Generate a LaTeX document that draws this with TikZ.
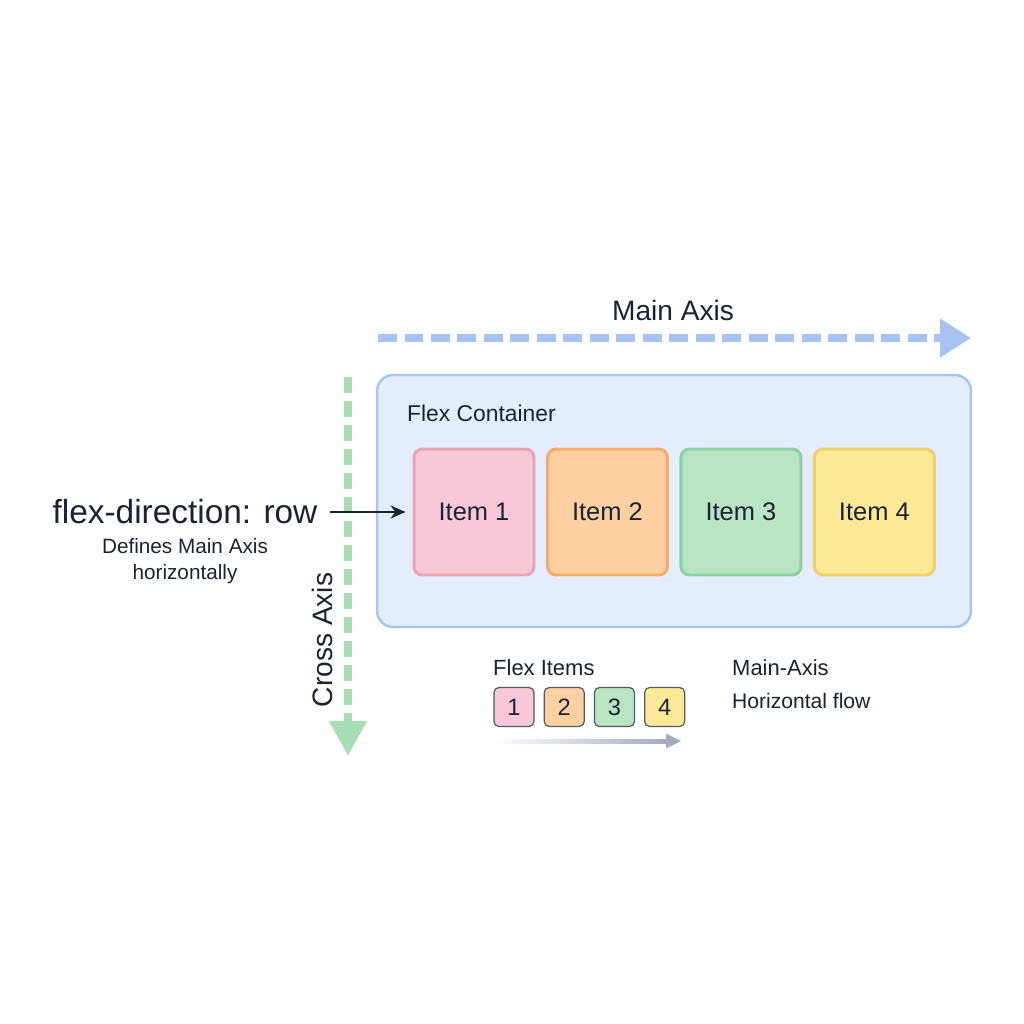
\documentclass[tikz,border=0pt]{standalone}
\usepackage{fontspec}
\setmainfont{Liberation Sans}
\usepackage{tikz}
\usetikzlibrary{arrows.meta, positioning, shapes, calc}

\definecolor{ink}{HTML}{1B2333}
\definecolor{mainblue}{HTML}{A6C3F3}
\definecolor{crossgreen}{HTML}{A9DDB6}
\definecolor{boxfill}{HTML}{E3EDFC}
\definecolor{boxline}{HTML}{A9C4EE}
\definecolor{pinkF}{HTML}{F9C8D8}
\definecolor{pinkD}{HTML}{E8A2B6}
\definecolor{orangeF}{HTML}{FDD0A2}
\definecolor{orangeD}{HTML}{F2AD6E}
\definecolor{greenF}{HTML}{B9E5C4}
\definecolor{greenD}{HTML}{8FD0A1}
\definecolor{yellowF}{HTML}{FBE995}
\definecolor{yellowD}{HTML}{EDD16C}
\definecolor{flowgray}{HTML}{A3ABBF}

\begin{document}
\begin{tikzpicture}[x=0.02cm, y=-0.02cm,
    every node/.style={text=ink},
    mainaxis/.style={line width=4.6pt, mainblue, dash pattern=on 0.38cm off 0.15cm,
        -{Triangle[length=0.62cm, width=0.74cm]}},
    crossaxis/.style={line width=4pt, crossgreen, dash pattern=on 0.32cm off 0.16cm,
        -{Triangle[length=0.7cm, width=0.72cm]}},
    container/.style={draw=boxline, fill=boxfill, line width=1.4pt, rounded corners=0.32cm,
        minimum width=11.88cm, minimum height=5.04cm},
    item/.style={line width=1.7pt, rounded corners=0.17cm, minimum width=2.4cm,
        minimum height=2.52cm, font=\fontsize{14.5}{17}\selectfont},
    chip/.style={draw=ink!75, line width=0.7pt, rounded corners=0.1cm, minimum width=0.8cm,
        minimum height=0.78cm, font=\fontsize{13.5}{16}\selectfont},
    small/.style={font=\fontsize{12.5}{15}\selectfont}]
    \useasboundingbox[fill=white] (0,0) rectangle (1024,1024);

    % Main axis
    \coordinate (mainS) at (378,338);
    \coordinate (mainE) at (971,338);
    \draw[mainaxis] (mainS) -- (mainE);
    \node[font=\fontsize{16}{19}\selectfont] (mainlbl) at (673,310) {Main Axis};

    % Flex container
    \node[container] (box) at (674,501) {};
    \node[anchor=west, font=\fontsize{13}{15}\selectfont] (boxlbl) at (401,413) {Flex Container};

    % Cross axis
    \coordinate (crossS) at (348,377);
    \coordinate (crossE) at (348,756);
    \draw[crossaxis] (crossS) -- (crossE);
    \node[rotate=90, font=\fontsize{16}{19}\selectfont] (crosslbl) at (322,640) {Cross Axis};

    % Flex items
    \node[item, fill=pinkF, draw=pinkD] (item1) at (474,512) {Item 1};
    \node[item, fill=orangeF, draw=orangeD, right=0.21cm of item1] (item2) {Item 2};
    \node[item, fill=greenF, draw=greenD, right=0.21cm of item2] (item3) {Item 3};
    \node[item, fill=yellowF, draw=yellowD, right=0.21cm of item3] (item4) {Item 4};

    % flex-direction label
    \node[font=\fontsize{19}{22}\selectfont] (dir) at (185,512) {flex-direction: row};
    \node[align=center, font=\fontsize{11.8}{14.8}\selectfont, below=0.04cm of dir] (dirnote)
        {Defines Main Axis\\horizontally};
    \draw[-{Stealth[length=0.3cm, width=0.26cm]}, line width=1.1pt, ink,
        shorten <=0.12cm, shorten >=0.14cm] (dir.east) -- (dir.east -| item1.west);

    % Legend
    \node[anchor=west, small] (legend) at (487,668) {Flex Items};
    \node[chip, fill=pinkF] (c1) at (514,707) {1};
    \node[chip, fill=orangeF, right=0.18cm of c1] (c2) {2};
    \node[chip, fill=greenF, right=0.18cm of c2] (c3) {3};
    \node[chip, fill=yellowF, right=0.18cm of c3] (c4) {4};
    \coordinate (flowS) at (494,741);
    \coordinate (flowE) at (666,741);
    \shade[left color=white, right color=flowgray] ($(flowS)+(0,-2)$) rectangle ($(flowE)+(0,2)$);
    \fill[flowgray] ($(flowE)+(0,-7.5)$) -- ($(flowE)+(15,0)$) -- ($(flowE)+(0,7.5)$) -- cycle;

    \node[anchor=west, small] (flowlbl) at (726,668) {Main-Axis};
    \node[anchor=west, font=\fontsize{12}{15}\selectfont] (flownote) at (726,701) {Horizontal flow};
\end{tikzpicture}
\end{document}
